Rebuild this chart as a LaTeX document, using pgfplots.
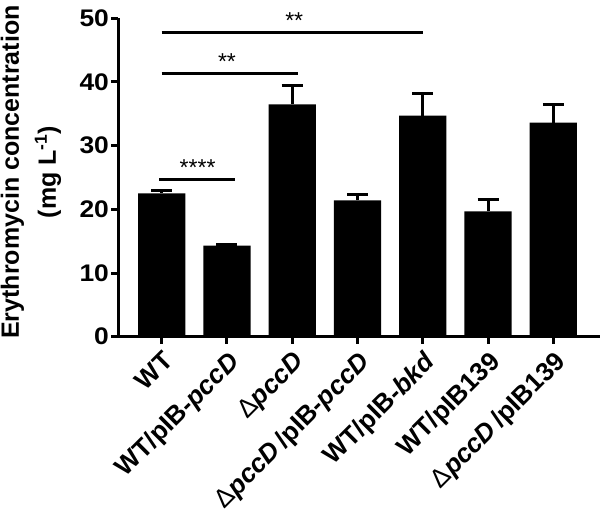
\documentclass[border=0pt]{standalone}
\usepackage{fontspec}
\setmainfont{Liberation Sans}
\usepackage{pgfplots}
\pgfplotsset{compat=1.18}
\pgfplotstableread{
x y e
0 22.5 0.5
1 14.3 0.15
2 36.5 2.9
3 21.4 1.0
4 34.7 3.5
5 19.7 1.8
6 33.6 2.8
}\datatable
\newcommand{\dl}{{\mdseries Δ}}
\begin{document}
\begin{tikzpicture}
\begin{axis}[
  width=481.7pt, height=318.4pt, scale only axis,
  xmin=-0.665, xmax=6.715, ymin=0, ymax=50,
  axis x line*=bottom, axis y line*=left,
  axis line style={line width=3pt},
  ytick={0,10,...,50},
  xtick={0,...,6},
  xticklabels={WT, WT/pIB-\textit{pccD}, \dl\textit{pccD}, \dl\textit{pccD}\,/pIB-\textit{pccD}, WT/pIB-\textit{bkd}, WT/pIB139, \dl\textit{pccD}\,/pIB139},
  tick align=outside,
  major tick length=7pt,
  tick style={line width=3pt, black},
  /pgf/number format/assume math mode=true,
  y tick label style={font=\fontsize{24}{24}\selectfont\bfseries, xscale=1.1, inner sep=2pt},
  x tick label style={font=\fontsize{26}{26}\selectfont\bfseries, rotate=45, anchor=north east, inner sep=0pt},
  xticklabel shift=6pt,
  ylabel={Erythromycin concentration\\(mg L\textsuperscript{-1})},
  every axis y label/.style={at={(axis description cs:-0.2445,0.517)}, rotate=90, anchor=north, inner sep=0pt, align=center, font=\fontsize{25}{37}\selectfont\bfseries},
  clip=false,
  ybar, bar width=0.724,
]
\addplot[fill=black, draw=none,
  error bars/.cd, y dir=plus, y explicit,
  error bar style={line width=3pt, black},
  error mark options={rotate=90, mark size=10.5pt, line width=3pt, black}]
  table[x=x, y=y, y error=e] {\datatable};
\draw[line width=3pt] (axis cs:-0.04,24.7) -- (axis cs:1.13,24.7);
\draw[line width=3pt] (axis cs:0,41.4) -- (axis cs:2.09,41.4);
\draw[line width=3pt] (axis cs:0,47.8) -- (axis cs:4,47.8);
\node[font=\fontsize{23}{23}\selectfont, anchor=south, inner sep=0pt] at (axis cs:0.55,25.3) {****};
\node[font=\fontsize{23}{23}\selectfont, anchor=south, inner sep=0pt] at (axis cs:1.0,42.0) {**};
\node[font=\fontsize{23}{23}\selectfont, anchor=south, inner sep=0pt] at (axis cs:2.03,48.4) {**};
\coordinate (bl) at (rel axis cs:0,0);
\coordinate (tr) at (rel axis cs:1,1);
\end{axis}
\pgfresetboundingbox
\path[use as bounding box] ([xshift=-118.3pt,yshift=-177.3pt]bl) rectangle ([yshift=18.3pt]tr);
\end{tikzpicture}
\end{document}
